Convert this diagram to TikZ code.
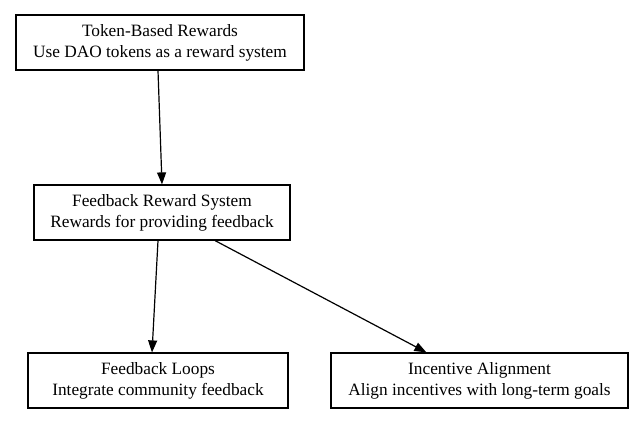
\documentclass[tikz,border=0pt]{standalone}
\usepackage{fontspec}
\setmainfont{Liberation Serif}
\usetikzlibrary{arrows.meta}
\begin{document}
\begin{tikzpicture}[x=1pt,y=-1pt,
  box/.style={draw,line width=1.2pt,align=center,minimum height=55pt,inner sep=2pt,font=\fontsize{17.3}{21}\selectfont},
  conn/.style={line width=1.2pt,-{Triangle[length=12pt,width=9pt]}}]
\useasboundingbox (0,0) rectangle (644,425);
\node[box,minimum width=288pt] (n1) at (160,42.5) {Token-Based Rewards\\Use DAO tokens as a reward system};
\node[box,minimum width=256pt] (n2) at (162,212.5) {Feedback Reward System\\Rewards for providing feedback};
\node[box,minimum width=260pt] (n3) at (158,380.5) {Feedback Loops\\Integrate community feedback};
\node[box,minimum width=297pt] (n4) at (479.5,380.5) {Incentive Alignment\\Align incentives with long-term goals};
\draw[conn] ([xshift=-2pt]n1.south) -- (n2.north);
\draw[conn] ([xshift=-4pt]n2.south) -- ([xshift=-6pt]n3.north);
\draw[conn] (n2) -- (n4);
\end{tikzpicture}
\end{document}
